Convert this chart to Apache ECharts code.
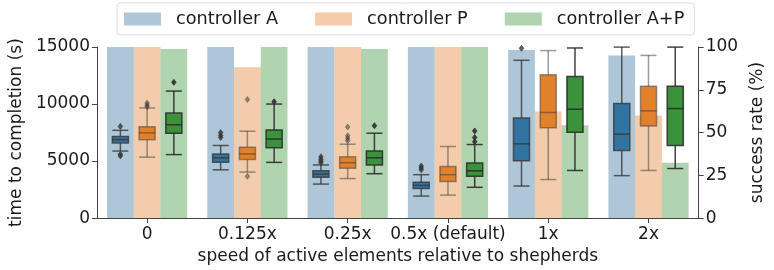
<!DOCTYPE html>
<html>
<head>
<meta charset="utf-8">
<script src="https://cdn.jsdelivr.net/npm/echarts@6/dist/echarts.min.js"></script>
<style>
  html, body { margin: 0; padding: 0; background: #fff; }
  #chart { width: 774px; height: 270px; }
</style>
</head>
<body>
<div id="chart"></div>
<script>
// categories on the x axis
const categories = ['0', '0.125x', '0.25x', '0.5x (default)', '1x', '2x']
const controllers = ['controller A', 'controller P', 'controller A+P']

// success rate (%), right axis
const successA = [100, 100, 100, 100, 98.3, 95.1]
const successP = [100, 88.2, 100, 100, 62.3, 60.0]
const successAP = [98.9, 100, 98.9, 100, 54.2, 32.4]

// time to completion (s): [low whisker, q1, median, q3, high whisker]
const boxA = [
  [5880, 6591, 6878, 7159, 7696],
  [4233, 4886, 5284, 5625, 6364],
  [2983, 3580, 3864, 4148, 4659],
  [1932, 2585, 2869, 3153, 3807],
  [2812, 5028, 6506, 8778, 13835],
  [3722, 5937, 7358, 10057, 14990]
]
const boxP = [
  [5341, 6878, 7472, 8011, 9659],
  [4034, 5142, 5625, 6222, 7614],
  [3466, 4375, 4858, 5369, 6477],
  [2017, 3210, 3807, 4517, 6278],
  [3381, 7926, 9261, 12557, 14687],
  [4176, 8068, 9403, 11562, 14261]
]
const boxAP = [
  [5568, 7443, 8182, 9205, 11136],
  [4886, 6165, 6932, 7727, 9999],
  [3892, 4659, 5284, 5880, 7443],
  [2699, 3665, 4148, 4829, 6449],
  [4176, 7528, 9545, 12415, 14915],
  [4347, 6364, 9602, 11562, 14990]
]

// outliers: [category index, value]
const outA = [[0, 8040], [0, 5600], [0, 5455], [1, 7500], [1, 7250], [1, 7070],
  [2, 5370], [2, 5150], [2, 5000], [2, 4850], [3, 4574], [3, 4400], [3, 4233], [4, 14886]]
const outP = [[0, 10080], [0, 9900], [0, 9770], [1, 10398], [1, 3665],
  [2, 7983], [2, 7216], [2, 7000], [2, 6790]]
const outAP = [[0, 11903], [1, 10199], [2, 8096], [3, 7642], [3, 7070], [3, 6700]]

const boxColors = ['#3274a1', '#e1812c', '#3a923a']
const barColors = ['rgba(50,116,161,0.4)', 'rgba(225,129,44,0.4)', 'rgba(58,146,58,0.4)']
const lineColors = ['rgba(55,55,55,0.8)', 'rgba(55,55,55,0.5)', 'rgba(45,45,45,0.9)']
const font = 'DejaVu Sans'

const chart = echarts.init(document.getElementById('chart'))

const slotShift = (api, k) => {
  const band = api.size([1, 0])[0]
  return { shift: (k - 1) * band * 0.8 / 3, half: band * 0.8 / 3 * 0.3 }
}

const boxSeries = (data, k) => ({
  type: 'custom',
  name: 'box ' + k,
  xAxisIndex: 0,
  yAxisIndex: 0,
  z: 5,
  data: data.map((d, i) => [i].concat(d)),
  encode: { x: 0, y: [1, 2, 3, 4, 5] },
  renderItem: (params, api) => {
    const i = api.value(0)
    const { shift, half } = slotShift(api, k)
    const x = api.coord([i, 0])[0] + shift
    const y = [1, 2, 3, 4, 5].map(j => api.coord([i, api.value(j)])[1])
    const ls = { stroke: lineColors[k], lineWidth: 1.5 }
    return {
      type: 'group',
      children: [
        { type: 'line', shape: { x1: x, y1: y[0], x2: x, y2: y[1] }, style: ls },
        { type: 'line', shape: { x1: x, y1: y[3], x2: x, y2: y[4] }, style: ls },
        { type: 'line', shape: { x1: x - half, y1: y[0], x2: x + half, y2: y[0] }, style: ls },
        { type: 'line', shape: { x1: x - half, y1: y[4], x2: x + half, y2: y[4] }, style: ls },
        { type: 'rect', shape: { x: x - half, y: y[3], width: half * 2, height: y[1] - y[3] },
          style: { fill: boxColors[k], stroke: lineColors[k], lineWidth: 1.5 } },
        { type: 'line', shape: { x1: x - half, y1: y[2], x2: x + half, y2: y[2] }, style: ls }
      ]
    }
  }
})

const outlierSeries = (data, k) => ({
  type: 'custom',
  name: 'outliers ' + k,
  xAxisIndex: 0,
  yAxisIndex: 0,
  z: 6,
  data: data,
  encode: { x: 0, y: 1 },
  renderItem: (params, api) => {
    const i = api.value(0)
    const { shift } = slotShift(api, k)
    const p = api.coord([i, api.value(1)])
    const cx = p[0] + shift
    const cy = p[1]
    return {
      type: 'polygon',
      shape: { points: [[cx, cy - 3], [cx + 2.3, cy], [cx, cy + 3], [cx - 2.3, cy]] },
      style: { fill: lineColors[k], stroke: lineColors[k], lineWidth: 0.8 }
    }
  }
})

const barSeries = (name, data, k) => ({
  type: 'bar',
  name: name,
  xAxisIndex: 0,
  yAxisIndex: 1,
  z: 1,
  data: data,
  barGap: '0%',
  barCategoryGap: '20%',
  itemStyle: { color: barColors[k] },
  emphasis: { disabled: true }
})

const axisText = { fontFamily: font, fontSize: 17, color: '#1a1a1a' }
const axisLine = { show: true, lineStyle: { color: '#444', width: 1 } }
const axisTick = { show: true, length: 5, lineStyle: { color: '#444' } }
const plainNumber = v => String(v)

const option = {
  animation: false,
  backgroundColor: '#fff',
  grid: { left: 95, right: 59, top: 47, bottom: 47 },
  legend: {
    data: controllers,
    left: 117,
    top: 3,
    icon: 'rect',
    itemWidth: 37,
    itemHeight: 13,
    itemGap: 37,
    padding: [7, 10, 7, 7],
    borderColor: '#dcdcdc',
    borderWidth: 1,
    borderRadius: 3,
    textStyle: { fontFamily: font, fontSize: 17.7, color: '#1a1a1a', padding: [0, 0, 0, 10] }
  },
  xAxis: [{
    type: 'category',
    data: categories,
    axisLine: axisLine,
    axisTick: Object.assign({ alignWithLabel: true }, axisTick),
    axisLabel: Object.assign({ margin: 8, interval: 0 }, axisText),
    name: 'speed of active elements relative to shepherds',
    nameLocation: 'middle',
    nameGap: 24,
    nameTextStyle: axisText
  }],
  yAxis: [{
    type: 'value',
    min: 0,
    max: 15000,
    interval: 5000,
    position: 'left',
    splitLine: { show: false },
    axisLine: axisLine,
    axisTick: axisTick,
    axisLabel: Object.assign({ margin: 7, formatter: plainNumber }, axisText),
    name: 'time to completion (s)',
    nameLocation: 'middle',
    nameRotate: 90,
    nameGap: 70,
    nameTextStyle: axisText
  }, {
    type: 'value',
    min: 0,
    max: 100,
    interval: 25,
    position: 'right',
    splitLine: { show: false },
    axisLine: axisLine,
    axisTick: axisTick,
    axisLabel: Object.assign({ margin: 7, formatter: plainNumber }, axisText),
    name: 'success rate (%)',
    nameLocation: 'middle',
    nameRotate: 90,
    nameGap: 42,
    nameTextStyle: axisText
  }],
  series: [
    barSeries(controllers[0], successA, 0),
    barSeries(controllers[1], successP, 1),
    barSeries(controllers[2], successAP, 2),
    boxSeries(boxA, 0),
    boxSeries(boxP, 1),
    boxSeries(boxAP, 2),
    outlierSeries(outA, 0),
    outlierSeries(outP, 1),
    outlierSeries(outAP, 2)
  ]
}

chart.setOption(option)
</script>
</body>
</html>
